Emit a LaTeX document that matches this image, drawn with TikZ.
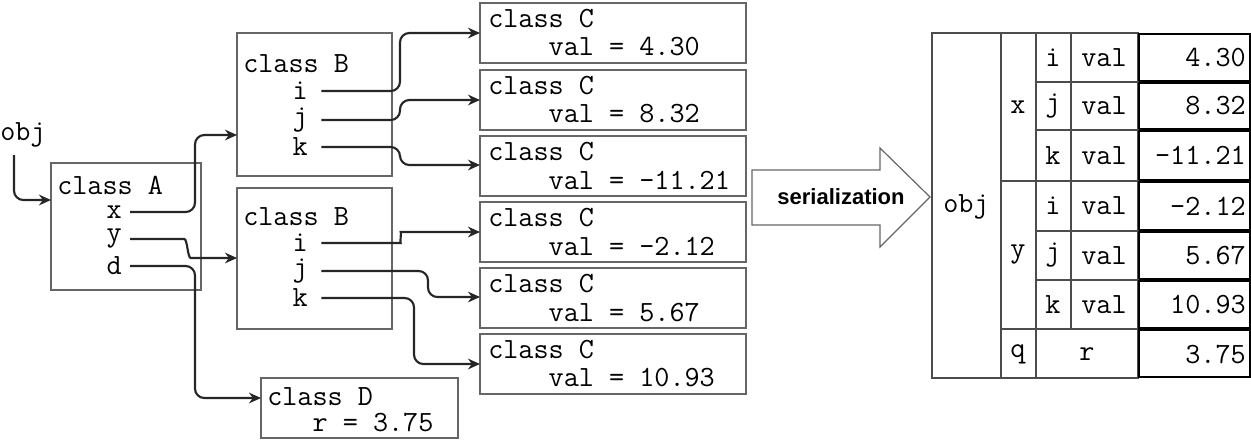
\documentclass[tikz,border=0pt]{standalone}
\usepackage{fontspec}
\setmainfont{Liberation Sans}
\usetikzlibrary{arrows.meta}
\begin{document}
\begin{tikzpicture}[x=0.75pt,y=-0.75pt,
  box/.style={draw=black!60,line width=0.9pt},
  t/.style={inner sep=0pt,anchor=west,font=\ttfamily\fontsize{22}{24}\selectfont},
  tc/.style={inner sep=0pt,font=\ttfamily\fontsize{22}{24}\selectfont},
  tr/.style={inner sep=0pt,anchor=east,font=\ttfamily\fontsize{22}{24}\selectfont},
  con/.style={draw=black!85,line width=1.6pt,rounded corners=7pt,-{Stealth[length=9pt,width=8pt]}},
  cell/.style={draw=black!70,line width=0.8pt},
  vcell/.style={draw=black,line width=2.2pt}]
\useasboundingbox (0,0) rectangle (1251,444);
% boxes
\draw[box] (51,163) rectangle (201,290); \coordinate (A) at (51,200);
\draw[box] (237,33) rectangle (392,176); \coordinate (B1) at (237,135);
\draw[box] (237,188) rectangle (392,329); \coordinate (B2) at (237,258);
\draw[box] (261,378) rectangle (458,438); \coordinate (D) at (261,398);
\foreach \y/\v [count=\n] in {3/4.30,70/8.32,136/-11.21,202/-2.12,268/5.67,334/10.93}{
  \draw[box] (480,\y) rectangle (746,\y+60);
  \node[t] at (488,\y+16) {class C};
  \node[t] at (488,\y+44) {\ \ \ \ val = \v};
}
\foreach \n/\y in {1/33,2/100,3/165,4/232,5/297,6/364}{\coordinate (C\n) at (480,\y);}
\coordinate (X195) at (195,0); \coordinate (X400) at (400,0);
\coordinate (X428) at (428,0); \coordinate (X414) at (414,0);
% texts
\node[t] (obj) at (0,135) {obj};
\node[t] at (57,185) {class A};
\node[tr] (ax) at (122,212) {x};
\node[tr] (ay) at (122,239) {y};
\node[tr] (ad) at (122,266) {d};
\node[t] at (243,64) {class B};
\node[tr] (b1i) at (308,91) {i};
\node[tr] (b1j) at (308,120) {j};
\node[tr] (b1k) at (308,147) {k};
\node[t] at (243,217) {class B};
\node[tr] (b2i) at (308,243) {i};
\node[tr] (b2j) at (308,271) {j};
\node[tr] (b2k) at (308,298) {k};
\node[t] at (267,397) {class D};
\node[t] at (267,422) {\ \ \ r = 3.75};
% connectors
\draw[con] (14,155) |- (A);
\draw[con] ([xshift=6pt]ax.east) -- (ax.east -| X195) |- (B1);
\draw[con] ([xshift=6pt]ay.east) -- ++(45,0) to[out=0,in=180] (200,258) -- (B2);
\draw[con] ([xshift=6pt]ad.east) -- (ad.east -| X195) |- (D);
\draw[con] ([xshift=10pt]b1i.east) -- (b1i.east -| X400) |- (C1);
\draw[con] ([xshift=10pt]b1j.east) -- (b1j.east -| X400) |- (C2);
\draw[con] ([xshift=10pt]b1k.east) -- (b1k.east -| X400) |- (C3);
\draw[con] ([xshift=10pt]b2i.east) -- ++(70,0) to[out=0,in=180] (410,232) -- (C4);
\draw[con] ([xshift=10pt]b2j.east) -- (b2j.east -| X428) |- (C5);
\draw[con] ([xshift=10pt]b2k.east) -- (b2k.east -| X414) |- (C6);
% big arrow
\draw[draw=black!60,line width=0.9pt,fill=white] (752,170) -- (880,170) -- (880,148) -- (930,197) -- (880,247) -- (880,225) -- (752,225) -- cycle;
\node[inner sep=0pt,font=\rmfamily\bfseries\fontsize{16.5}{18}\selectfont] at (841,197) {serialization};
% table
\draw[cell] (932,33) rectangle (1001,378);
\node[tc] at (966,207) {obj};
\draw[cell] (1001,33) rectangle (1036,181); \node[tc] at (1018,107) {x};
\draw[cell] (1001,181) rectangle (1036,329); \node[tc] at (1018,255) {y};
\draw[cell] (1001,329) rectangle (1036,378); \node[tc] at (1018,354) {q};
\draw[cell] (1036,329) rectangle (1138,378); \node[tc] at (1087,354) {r};
\foreach \ya/\yb/\l/\v in {33/82/i/4.30,82/130/j/8.32,130/181/k/-11.21,181/231/i/-2.12,231/280/j/5.67,280/329/k/10.93}{
  \draw[cell] (1036,\ya) rectangle (1071,\yb);
  \draw[cell] (1071,\ya) rectangle (1138,\yb);
  \node[tc] at (1053,{(\ya+\yb)/2}) {\l};
  \node[tc] at (1104,{(\ya+\yb)/2}) {val};
  \draw[vcell] (1139,\ya+1) rectangle (1250,\yb-1);
  \node[tr] at (1246,{(\ya+\yb)/2}) {\v};
}
\draw[vcell] (1139,330) rectangle (1250,377);
\node[tr] at (1246,354) {3.75};
\end{tikzpicture}
\end{document}
